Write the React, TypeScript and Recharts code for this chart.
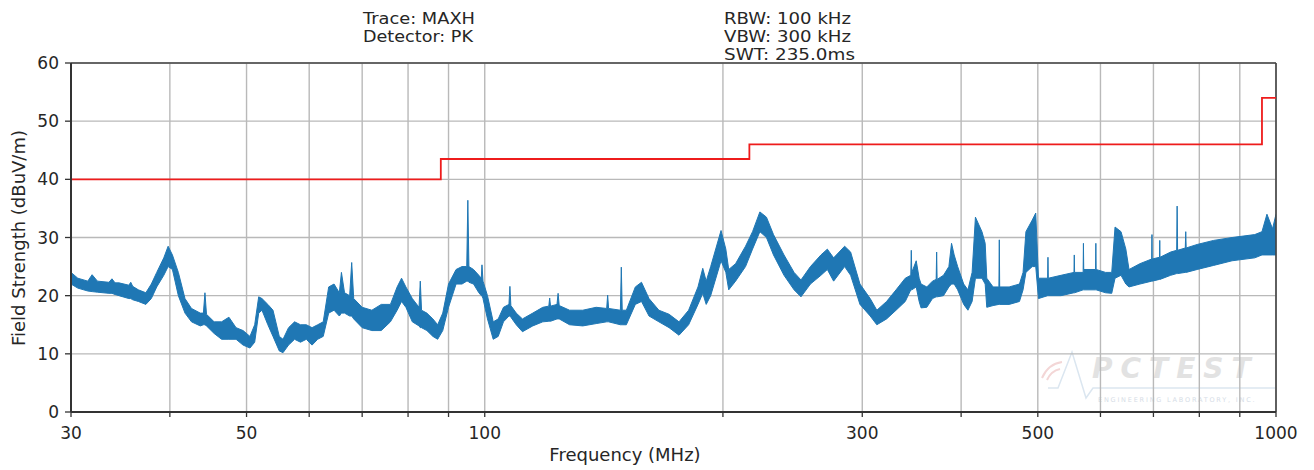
import {
  ComposedChart,
  Area,
  Line,
  XAxis,
  YAxis,
  CartesianGrid,
  ReferenceLine,
} from "recharts";

const X_TICKS = [30, 40, 50, 60, 70, 80, 90, 100, 200, 300, 400, 500, 600, 700, 800, 900, 1000];
const X_LABELED = [30, 50, 100, 300, 500, 1000];
const Y_TICKS = [0, 10, 20, 30, 40, 50, 60];

// FCC class B style limit, steps at 88 / 216 / 960 MHz
const LIMIT_FREQ = [30, 88, 216, 960, 1000];
const LIMIT_LEVEL = [40, 43.5, 46, 54, 54];

// MAXH trace: frequency (MHz) with lower / upper edge of the noise band
const TRACE_FREQ = [
  30, 30.6, 31.5, 31.9, 32.4, 33.5, 33.8, 34.1, 34.5, 35.5,
  35.7, 35.9, 36.5, 37.3, 37.9, 38.5, 39.3, 39.8, 40.3, 41,
  41.8, 42.6, 43.7, 44.1, 44.3, 44.5, 45.5, 46.5, 47.5, 48.5,
  49.5, 50.5, 51.2, 51.8, 52.3, 53.2, 54, 55, 55.6, 56.5,
  57.5, 58.5, 59.5, 60.5, 61.5, 62.5, 63.5, 64.5, 65.5, 65.9,
  66.5, 67.5, 67.9, 68.3, 70, 72, 74, 76, 77.5, 78.5,
  79.5, 81, 82.6, 82.9, 83.2, 84.5, 86, 87.2, 88.5, 90,
  92, 93.6, 94.9, 95.2, 95.5, 96.8, 98.3, 99, 99.2, 99.5,
  100.8, 102.5, 104, 105.6, 107.3, 107.6, 107.9, 109.6, 111.6, 115,
  118.4, 120.5, 120.8, 121.1, 123.4, 123.8, 124.2, 128, 133, 138.3,
  142.6, 143, 143.4, 148.4, 148.8, 149.2, 151, 155, 157.8, 161.3,
  166, 171, 176, 181, 186, 188.6, 190.5, 193, 198.9, 201.7,
  203.4, 207.5, 213.6, 218, 222.7, 227, 231.7, 238.9, 246, 251,
  258, 266, 271, 276, 285, 290, 298, 307, 313, 322,
  331, 340, 345.5, 346, 346.5, 351, 354, 356, 362, 368,
  372, 372.5, 373, 380, 386, 389, 392, 396, 403, 408,
  413, 417, 425, 429, 431, 439, 446.5, 447, 447.5, 460,
  474, 479, 483, 492, 497, 501, 514.5, 515, 515.5, 535,
  555.5, 556, 556.5, 570.5, 571, 571.5, 582, 591.5, 592, 592.5,
  609, 620, 626, 637, 646, 652, 673, 696.5, 697, 697.5,
  712.5, 713, 713.5, 736, 749, 750, 751, 768, 769, 770,
  795, 834, 880, 940, 960, 974, 990, 1000,
];
const TRACE_LOW = [
  22, 21.3, 20.8, 20.7, 20.6, 20.4, 20.4, 20.2, 20, 19.5,
  19.5, 19.3, 19, 18.5, 19.5, 21.5, 23.5, 25, 24.5, 20,
  17, 15.5, 14.8, 15, 15, 14.8, 13.5, 12.5, 12.5, 12.5,
  11.5, 11, 12, 17, 17.5, 15, 13, 10.5, 10.2, 11.5,
  12.5, 12, 12.5, 11.5, 12.5, 13, 17, 17.5, 16.5, 17,
  17, 16.5, 16.5, 16, 14.5, 14, 14, 15.5, 17.5, 19,
  18, 15.5, 14.8, 14.5, 14.5, 14, 13, 12.5, 14, 18,
  22, 22, 22.5, 22.5, 22.3, 22, 20.5, 20, 20, 19.5,
  16, 12.5, 13, 15.5, 16.5, 16.5, 16.3, 15, 13.8, 14.8,
  15.5, 15.6, 15.6, 15.6, 16, 16, 16, 15, 14.8, 15.2,
  15.5, 15.5, 15.5, 15, 15, 15, 15, 18.5, 19, 16.5,
  15.5, 14.5, 13.2, 15, 18.5, 20.4, 18.5, 20, 26, 24,
  21, 22.5, 25, 28, 31, 30, 27, 23.5, 21, 19.8,
  22, 23.5, 24.5, 22.5, 25, 23.5, 18.5, 16.5, 15, 16,
  17.5, 19, 21, 21, 21, 21.5, 19, 17.9, 18, 19.5,
  19.8, 19.8, 19.8, 20, 21.5, 22, 22, 21, 18.5, 17.5,
  19, 23, 23, 22, 18, 18.3, 18.5, 18.5, 18.5, 18.5,
  19, 21, 24, 25, 25, 19.5, 20, 20, 20, 20,
  20.5, 20.5, 20.5, 21, 21, 21, 21, 21, 21, 21,
  20.5, 20.4, 23, 23.5, 22, 21.5, 22, 22.5, 22.5, 22.5,
  22.8, 22.8, 22.8, 23.5, 23.8, 23.8, 23.8, 24, 24, 24,
  24.5, 25.2, 26, 26.5, 27, 27, 27, 27,
];
const TRACE_HIGH = [
  24, 23, 22.5, 23.6, 22.5, 22.3, 22.9, 22.2, 22.2, 21.8,
  22.3, 21.6, 21, 20.5, 22, 24, 26.5, 28.5, 27, 24,
  19.5, 17.8, 17, 17, 20.5, 16.8, 15.5, 15.5, 16.3, 14.5,
  14, 13, 15, 19.8, 19.5, 18.5, 17.5, 13, 12.5, 14.5,
  15.5, 15, 15, 14.5, 15, 15.5, 21.5, 22, 20.5, 24,
  20.5, 20, 25.7, 19.5, 18, 17.5, 18.5, 18.5, 21.5, 23,
  21.5, 19.5, 18, 22.5, 17.5, 17, 16, 15, 17, 22,
  24.5, 25, 25, 36.4, 25, 24.5, 23.5, 23, 25.3, 22.5,
  20, 15.5, 16, 18, 18.5, 21.6, 18.3, 17, 16, 17,
  18, 18.2, 19.6, 18.2, 18.5, 20.4, 18.3, 17.5, 17.5, 18,
  17.8, 20.1, 17.8, 17.5, 24.9, 17.5, 17.5, 21.5, 22.3, 19.5,
  17.5, 16.8, 15.5, 17.5, 21.5, 24.7, 22.5, 25, 31.2, 28,
  24.5, 25.5, 28.5, 31, 34.4, 33.5, 30.5, 27, 24, 22.7,
  25, 27, 28, 26.5, 28.5, 27.5, 22, 19.5, 17.5, 19,
  21, 23, 23.5, 27.8, 24, 26, 23, 22, 21.5, 22.5,
  22.8, 27.5, 22.8, 23.5, 25, 29, 27, 25, 22, 21,
  24, 33.5, 31, 29, 23, 21.5, 21.5, 29.6, 21.5, 21.5,
  22, 24, 31, 33, 34.2, 23, 23, 26.6, 23, 23.5,
  24, 27, 24, 24, 29, 24.5, 24.5, 24.5, 29, 24.5,
  24, 24, 31.8, 31, 28, 24.5, 25.5, 26.3, 30.5, 26.3,
  26.6, 29.5, 26.6, 27.5, 27.8, 35.4, 27.8, 28.2, 31, 28.2,
  28.8, 29.5, 30, 30.5, 31, 34, 31.5, 34,
];

const traceData = TRACE_FREQ.map((freq, i) => ({
  freq,
  band: [TRACE_LOW[i], TRACE_HIGH[i]],
}));
const limitData = LIMIT_FREQ.map((freq, i) => ({ freq, level: LIMIT_LEVEL[i] }));

const FONT = "'DejaVu Sans', sans-serif";
const TEXT = "#262626";
const tickStyle = { fontSize: 17, fill: TEXT, fontFamily: FONT };

export default function App() {
  return (
    <div
      style={{
        position: "absolute",
        left: 0,
        top: 0,
        width: 1314,
        height: 470,
        background: "#fff",
        fontFamily: FONT,
      }}
    >
      {/* watermark sits under the grid */}
      <svg
        width={1314}
        height={470}
        style={{ position: "absolute", left: 0, top: 0 }}
        fontFamily={FONT}
      >
        <path d="M1042 378 q6 -14 20 -16 M1047 380 q4 -9 13 -11" stroke="#f3d6d6" strokeWidth={2} fill="none" />
        <polyline
          points="1048,388 1058,388 1072,352 1086,398 1093,388 1276,388"
          stroke="#dbe6f0"
          strokeWidth={1.5}
          fill="none"
        />
        <text
          x={1092}
          y={378}
          fontSize={28}
          fontWeight="bold"
          fontStyle="italic"
          letterSpacing={8}
          fill="#e2e2e2"
        >
          PCTEST
        </text>
        <text x={1098} y={402} fontSize={6.5} letterSpacing={1.8} fill="#d6dde6">
          ENGINEERING LABORATORY, INC.
        </text>
      </svg>

      <div style={{ position: "absolute", left: 0, top: 0 }}>
        <ComposedChart
          width={1314}
          height={470}
          margin={{ top: 63, right: 38, bottom: 28, left: 0 }}
        >
          <CartesianGrid stroke="#b9b9b9" strokeWidth={1.4} />
          <XAxis
            dataKey="freq"
            type="number"
            scale="log"
            domain={[30, 1000]}
            allowDataOverflow
            ticks={X_TICKS}
            interval={0}
            height={30}
            tickSize={5}
            tickMargin={10}
            tick={tickStyle}
            tickFormatter={(v: number) => (X_LABELED.includes(v) ? String(v) : "")}
            axisLine={{ stroke: "#333", strokeWidth: 2 }}
            tickLine={{ stroke: "#333", strokeWidth: 1.3 }}
          />
          <YAxis
            type="number"
            domain={[0, 60]}
            ticks={Y_TICKS}
            interval={0}
            width={71}
            tickSize={6}
            tickMargin={6}
            tick={tickStyle}
            axisLine={{ stroke: "#333", strokeWidth: 2 }}
            tickLine={{ stroke: "#333", strokeWidth: 1.3 }}
          />
          <ReferenceLine y={60} stroke="#444" strokeWidth={1.6} />
          <ReferenceLine x={1000} stroke="#444" strokeWidth={1.6} />
          <Area
            data={traceData}
            dataKey="band"
            type="linear"
            stroke="#1f77b4"
            strokeWidth={1}
            fill="#1f77b4"
            fillOpacity={1}
            dot={false}
            activeDot={false}
            isAnimationActive={false}
          />
          <Line
            data={limitData}
            dataKey="level"
            type="stepAfter"
            stroke="#ee1c1c"
            strokeWidth={1.8}
            dot={false}
            activeDot={false}
            isAnimationActive={false}
          />
        </ComposedChart>
      </div>

      {/* header and axis titles */}
      <svg
        width={1314}
        height={470}
        style={{ position: "absolute", left: 0, top: 0, pointerEvents: "none" }}
        fontFamily={FONT}
      >
        <g fontSize={15.5} fill={TEXT}>
          <text x={363} y={24} textLength={112} lengthAdjust="spacingAndGlyphs">Trace: MAXH</text>
          <text x={363} y={42} textLength={110} lengthAdjust="spacingAndGlyphs">Detector: PK</text>
          <text x={724} y={24} textLength={127} lengthAdjust="spacingAndGlyphs">RBW: 100 kHz</text>
          <text x={724} y={42} textLength={127} lengthAdjust="spacingAndGlyphs">VBW: 300 kHz</text>
          <text x={724} y={60} textLength={131} lengthAdjust="spacingAndGlyphs">SWT: 235.0ms</text>
        </g>
        <g fontSize={18} fill={TEXT}>
          <text x={625} y={461} textAnchor="middle">Frequency (MHz)</text>
          <text x={25} y={238} textAnchor="middle" transform="rotate(-90 25 238)">
            Field Strength (dBuV/m)
          </text>
        </g>
      </svg>
    </div>
  );
}
